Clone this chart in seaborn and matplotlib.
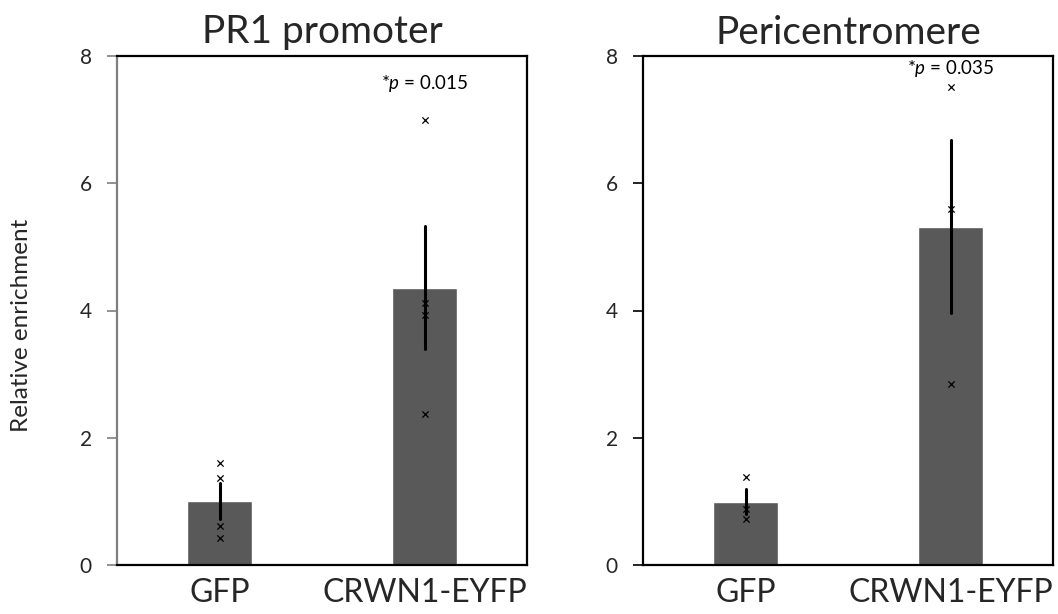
import matplotlib
matplotlib.use("Agg")
import matplotlib.pyplot as plt
import seaborn as sns
import pandas as pd

# ---- data ----
categories = ["GFP", "CRWN1-EYFP"]
panel_titles = ["PR1 promoter", "Pericentromere"]
pr1_gfp = [1.60, 1.36, 0.62, 0.42]
pr1_crwn = [7.00, 4.12, 3.93, 2.38]
peri_gfp = [1.39, 0.88, 0.72]
peri_crwn = [7.52, 5.59, 2.85]
p_labels = ["0.015", "0.035"]
y_ticks = [0, 2, 4, 6, 8]

sns.set_theme(style="white")
plt.rcParams['font.family'] = ['Lato', 'DejaVu Sans']
plt.rcParams['mathtext.fontset'] = 'custom'
plt.rcParams['mathtext.it'] = 'Lato:italic'
plt.rcParams['mathtext.rm'] = 'Lato'

fig = plt.figure(figsize=(10.58, 6.14), dpi=100)
W, H = 1058, 614
ax1 = fig.add_axes([117 / W, 1 - 565 / H, 410 / W, 509 / H])
ax2 = fig.add_axes([643 / W, 1 - 565 / H, 410 / W, 509 / H])

panels = [(ax1, pr1_gfp, pr1_crwn), (ax2, peri_gfp, peri_crwn)]
left_spine_colors = ["#7f7f7f", "black"]
p_y = [7.56, 7.80]
for i, (ax, g, c) in enumerate(panels):
    df = pd.DataFrame({
        "group": [categories[0]] * len(g) + [categories[1]] * len(c),
        "value": g + c,
    })
    sns.barplot(data=df, x="group", y="value", order=categories, ax=ax,
                color="#595959", saturation=1, width=0.32,
                errorbar="se", err_kws={"color": "black", "linewidth": 2.2},
                capsize=0)
    sns.stripplot(data=df, x="group", y="value", order=categories, ax=ax,
                  jitter=False, marker="x", color="black", size=4.5,
                  linewidth=0.9)
    ax.set_ylim(0, 8)
    ax.set_xlim(-0.5, 1.5)
    ax.set_yticks(y_ticks)
    ax.set_yticklabels([str(t) for t in y_ticks], fontsize=15)
    ax.tick_params(axis="y", direction="out", length=7, width=1.2,
                   color=left_spine_colors[i], pad=11, left=True)
    ax.tick_params(axis="x", length=0, labelsize=23, pad=9)
    ax.set_xlabel("")
    ax.set_ylabel("")
    for s in ["top", "right", "bottom"]:
        ax.spines[s].set_color("black")
        ax.spines[s].set_linewidth(1.6)
    ax.spines["left"].set_color(left_spine_colors[i])
    ax.spines["left"].set_linewidth(1.6)
    ax.set_title(panel_titles[i], fontsize=28, pad=9)
    ax.text(1, p_y[i], r"*$p$ = " + p_labels[i], ha="center", va="center",
            fontsize=13.5, color="black")
    ax.grid(False)

fig.text(22 / W, 1 - 325 / H, "Relative enrichment", rotation=90,
         ha="center", va="center", fontsize=17.5)

fig.savefig("out.png", dpi=100)
